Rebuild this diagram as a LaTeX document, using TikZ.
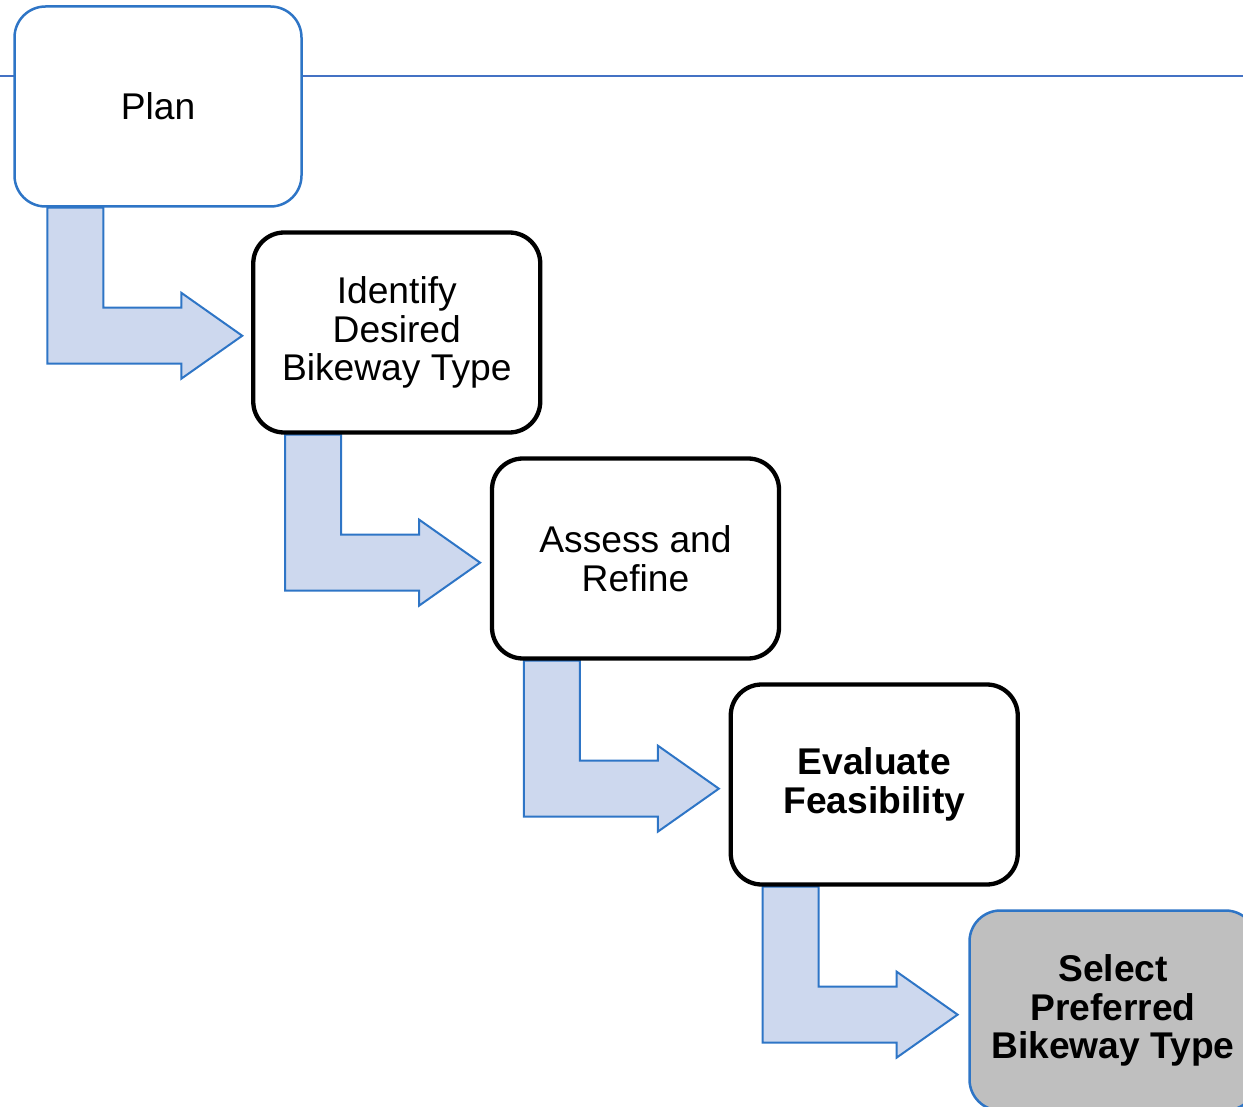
\documentclass[tikz,border=0pt]{standalone}
\usepackage{fontspec}
\setmainfont{Liberation Sans}
\usetikzlibrary{backgrounds}
\definecolor{boxblue}{RGB}{46,117,198}
\definecolor{linebl}{RGB}{68,114,196}
\definecolor{arrfill}{RGB}{205,216,238}
\definecolor{selgray}{RGB}{191,191,191}
\tikzset{
  stagebox/.style={rectangle, rounded corners=31pt, minimum width=287pt, minimum height=200pt,
    inner sep=0pt, align=center, font=\fontsize{37.2}{38.7}\selectfont},
  blackbox/.style={stagebox, draw=black, line width=4.3pt, fill=white},
  bluebox/.style={stagebox, draw=boxblue, line width=2.5pt},
  bentarrow/.style={draw=boxblue, fill=arrfill, line width=2pt, line join=miter},
  rule/.style={draw=linebl, line width=1.2pt}
}
\begin{document}
\begin{tikzpicture}[x=1pt,y=-1pt]
\useasboundingbox (0,0) rectangle (1243,1107);
\clip (0,0) rectangle (1243,1107);
\node[bluebox, fill=white] (plan) at (158,106.5) {\raisebox{-1.5pt}{Plan}};
\node[blackbox] (ident) at (396.75,332.5) {\raisebox{-2pt}{\parbox{280pt}{\centering Identify\\Desired\\Bikeway Type}}};
\node[blackbox] (assess) at (635.5,558.5) {\raisebox{-2pt}{\parbox{280pt}{\centering Assess and\\Refine}}};
\node[blackbox] (eval) at (874.25,784.5) {\raisebox{-2pt}{\parbox{280pt}{\centering\bfseries Evaluate\\Feasibility}}};
\node[bluebox, fill=selgray] (select) at (1113,1010.5) {\raisebox{-2pt}{\parbox{280pt}{\centering\bfseries Select\\Preferred\\Bikeway Type}}};
\coordinate (ruleL) at (0,76);
\coordinate (ruleR) at (1243,76);
\begin{pgfonlayer}{background}
\draw[rule] (ruleL) -- (ruleR);
\foreach \a in {plan,ident,assess,eval}{
  \draw[bentarrow] ([xshift=34pt]\a.south west) -- ++(56,0) -- ++(0,100) -- ++(78,0)
    -- ++(0,-15) -- ++(61,43) -- ++(-61,43) -- ++(0,-15) -- ++(-134,0) -- cycle;
}
\end{pgfonlayer}
\end{tikzpicture}
\end{document}
